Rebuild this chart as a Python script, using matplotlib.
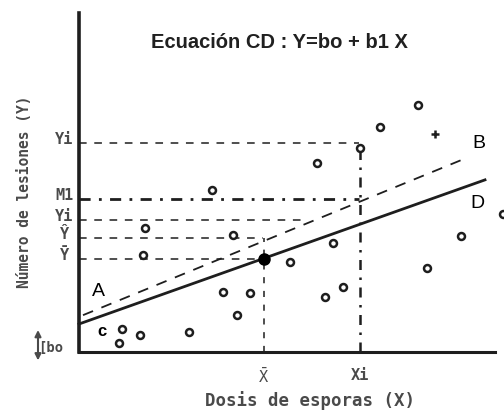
import numpy as np
import matplotlib.pyplot as plt

x_obs = [8.48, 7.52, 7.02, 5.95, 3.32, 1.65, 3.85, 1.60, 5.28, 6.35, 3.60, 4.28,
         3.95, 6.60, 6.15, 8.70, 9.55, 10.6, 2.75, 1.08, 1.52, 1.00]
y_obs = [6.18, 5.62, 5.10, 4.72, 4.05, 3.10, 2.92, 2.42, 2.25, 2.72, 1.50, 1.48,
         0.92, 1.62, 1.38, 2.10, 2.90, 3.45, 0.50, 0.58, 0.42, 0.22]
star_x, star_y = [8.9], [5.45]

# regression CD and line AB
b0, b1 = 0.70, 0.355
a0, a1 = 0.88, 0.41
x_mean, y_mean = 4.625, 2.325
x_i = 7.025

# horizontal reference levels on the Y axis
levels = [5.225, 3.825, 3.30, 2.85, 2.325]
level_ends = [7.0, 7.0, 5.6, 4.6, 4.6]
level_labels = ['Yi', 'M1', 'Yi', 'Ŷ', 'Ȳ']

ink = '#1e1e1e'
gray = '#4a4a4a'
mono = 'DejaVu Sans Mono'

fig = plt.figure(figsize=(5.04, 4.12), dpi=100)
ax = fig.add_axes([79/504, 60/412, 416/504, 339/412])
ax.set_xlim(0, 10.4)
ax.set_ylim(0, 8.475)
for s in ['top', 'right']:
    ax.spines[s].set_visible(False)
ax.spines['left'].set_linewidth(2.6)
ax.spines['bottom'].set_linewidth(2.2)
ax.spines['left'].set_color(ink)
ax.spines['bottom'].set_color(ink)
ax.set_xticks([])
ax.set_yticks([])

# dashed guide lines
for i, (lv, xe) in enumerate(zip(levels, level_ends)):
    if i == 1:
        ax.plot([0, xe], [lv, lv], color=ink, lw=2.0, ls=(0, (4, 3, 1, 3)))
    else:
        ax.plot([0, xe], [lv, lv], color=ink, lw=1.1, ls=(0, (5, 5)))
    ax.text(-0.375, lv + 0.1, level_labels[i], fontsize=11, family=mono,
            color=gray, ha='center', va='center', fontweight='bold', clip_on=False)

ax.plot([x_mean, x_mean], [0, levels[3]], color=ink, lw=1.1, ls=(0, (4, 5)))
ax.plot([x_i, x_i], [0, levels[0]], color=ink, lw=1.8, ls=(0, (4, 3, 1, 3)))

# lines
xx = np.array([0, 10.15])
ax.plot(xx, b0 + b1 * xx, color=ink, lw=2.0, clip_on=False)
xa = np.array([0.1, 9.65])
ax.plot(xa, a0 + a1 * xa, color=ink, lw=1.3, ls=(0, (6, 5)))

# points
ax.plot(x_obs, y_obs, 'o', ms=5, mfc='white', mec=ink, mew=1.8, ls='none', clip_on=False)
ax.plot(star_x, star_y, '+', ms=6, color=ink, mew=1.8)
ax.plot([x_mean], [y_mean], 'o', ms=8, color='black')

# letters
ax.text(0.475, 1.5, 'A', fontsize=14, family='Liberation Sans', ha='center', va='center')
ax.text(10.0, 5.225, 'B', fontsize=14, family='Liberation Sans', ha='center', va='center', clip_on=False)
ax.text(9.95, 3.725, 'D', fontsize=14, family='Liberation Sans', ha='center', va='center', clip_on=False)
ax.text(0.575, 0.525, 'c', fontsize=12, family='Liberation Sans', fontweight='bold', ha='center', va='center')

ax.text(5.0, 7.75, 'Ecuación CD : Y=bo + b1 X', fontsize=14.5, family='Liberation Sans',
        fontweight='bold', color='#202020', ha='center', va='center')

# axis labels
ax.text(x_mean, -0.6, r'$\bar{\mathtt{X}}$', fontsize=11, color=gray, ha='center', va='center', clip_on=False)
ax.text(x_i, -0.6, 'Xi', fontsize=11, family=mono, color=gray, fontweight='bold',
        ha='center', va='center', clip_on=False)
ax.text(5.775, -1.225, 'Dosis de esporas (X)', fontsize=12.5, family=mono, color=gray,
        fontweight='bold', ha='center', va='center', clip_on=False)
ax.text(-1.35, 4.0, 'Número de lesiones (Y)', fontsize=10.5, family=mono, color=gray,
        fontweight='bold', rotation=90, ha='center', va='center', clip_on=False)

# bo marker
ax.annotate('', xy=(-1.025, -0.28), xytext=(-1.025, 0.62), annotation_clip=False,
            arrowprops=dict(arrowstyle='<|-|>', color=gray, lw=1.5, mutation_scale=9))
ax.text(-0.72, 0.1, '[bo', fontsize=10, family=mono, color=gray, fontweight='bold',
        ha='center', va='center', clip_on=False)

fig.savefig('out.png', dpi=100)
